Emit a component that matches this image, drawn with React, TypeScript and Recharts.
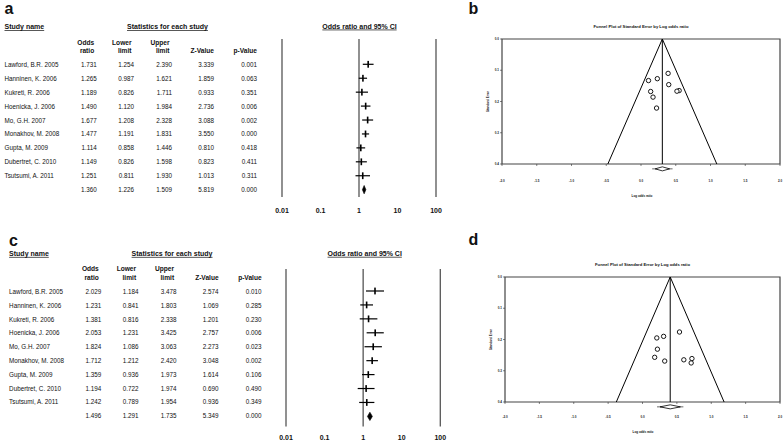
import React from "react";
import {
  ComposedChart, Scatter, XAxis, YAxis, ReferenceLine, ReferenceArea,
} from "recharts";

const FONT = "'Liberation Sans', Arial, Helvetica, sans-serif";

const studyNames = [
  "Lawford, B.R. 2005",
  "Hanninen, K. 2006",
  "Kukreti, R. 2006",
  "Hoenicka, J. 2006",
  "Mo, G.H. 2007",
  "Monakhov, M. 2008",
  "Gupta, M. 2009",
  "Dubertret, C. 2010",
  "Tsutsumi, A. 2011",
];

// panel a (last entry = pooled)
const orA = [1.731, 1.265, 1.189, 1.49, 1.677, 1.477, 1.114, 1.149, 1.251, 1.36];
const loA = [1.254, 0.987, 0.826, 1.12, 1.208, 1.191, 0.858, 0.826, 0.811, 1.226];
const hiA = [2.39, 1.621, 1.711, 1.984, 2.328, 1.831, 1.446, 1.598, 1.93, 1.509];
const zA = [3.339, 1.859, 0.933, 2.736, 3.088, 3.55, 0.81, 0.823, 1.013, 5.819];
const pA = [0.001, 0.063, 0.351, 0.006, 0.002, 0.0, 0.418, 0.411, 0.311, 0.0];

// panel c
const orC = [2.029, 1.231, 1.381, 2.053, 1.824, 1.712, 1.359, 1.194, 1.242, 1.496];
const loC = [1.184, 0.841, 0.816, 1.231, 1.086, 1.212, 0.936, 0.722, 0.789, 1.291];
const hiC = [3.478, 1.803, 2.338, 3.425, 3.063, 2.42, 1.973, 1.974, 1.954, 1.735];
const zC = [2.574, 1.069, 1.201, 2.757, 2.273, 3.048, 1.614, 0.69, 0.936, 5.349];
const pC = [0.01, 0.285, 0.23, 0.006, 0.023, 0.002, 0.106, 0.49, 0.349, 0.0];

const forestTicks = [0.01, 0.1, 1, 10, 100];
const forestLines = [0.01, 1, 100];

// funnel b: log odds ratio and standard error per study
const logOrB = [0.549, 0.235, 0.173, 0.399, 0.517, 0.39, 0.108, 0.139, 0.224];
const seB = [0.165, 0.127, 0.186, 0.146, 0.167, 0.11, 0.133, 0.168, 0.221];
const pooledB = 0.307;
const funnelBaseB = [-0.477, 1.091];
const pooledCiB = [0.204, 0.411];

// funnel d
const logOrD = [0.708, 0.208, 0.323, 0.719, 0.601, 0.538, 0.307, 0.177, 0.217];
const seD = [0.275, 0.195, 0.269, 0.261, 0.265, 0.176, 0.19, 0.257, 0.231];
const pooledD = 0.403;
const funnelBaseD = [-0.381, 1.187];
const pooledCiD = [0.255, 0.551];

const funnelXTicks = [-2, -1.5, -1, -0.5, 0, 0.5, 1, 1.5, 2];
const funnelYTicks = [0, 0.1, 0.2, 0.3, 0.4];

type Geom = { left: number; right: number; top: number; bottom: number };

function StudyTable({ dx, dy, or, lo, hi, z, p }: any) {
  const cols = [96.7, 134, 172, 214, 257].map((c) => c + dx);
  const base = (i: number) => dy + 65 + i * 13.81 + 2.3;
  const hdr = (c: number) => c - 2.5;
  const bold = { fontSize: 6.6, fontWeight: 700 } as any;
  return (
    <g fontFamily={FONT} fill="#111">
      <text x={dx + 4.5} y={dy + 29.3} fontSize={7} fontWeight={700} textDecoration="underline">Study name</text>
      <text x={dx + 127} y={dy + 29.3} fontSize={7} fontWeight={700} textDecoration="underline">Statistics for each study</text>
      <text x={hdr(cols[0])} y={dy + 44.6} textAnchor="end" {...bold}>Odds</text>
      <text x={hdr(cols[0])} y={dy + 53} textAnchor="end" {...bold}>ratio</text>
      <text x={hdr(cols[1])} y={dy + 44.6} textAnchor="end" {...bold}>Lower</text>
      <text x={hdr(cols[1])} y={dy + 53} textAnchor="end" {...bold}>limit</text>
      <text x={hdr(cols[2])} y={dy + 44.6} textAnchor="end" {...bold}>Upper</text>
      <text x={hdr(cols[2])} y={dy + 53} textAnchor="end" {...bold}>limit</text>
      <text x={cols[3]} y={dy + 53} textAnchor="end" {...bold}>Z-Value</text>
      <text x={cols[4]} y={dy + 53} textAnchor="end" {...bold}>p-Value</text>
      {or.map((v: number, i: number) => (
        <g key={i} fontSize={6.3}>
          {i < studyNames.length && <text x={dx + 4.5} y={base(i)}>{studyNames[i]}</text>}
          <text x={cols[0]} y={base(i)} textAnchor="end">{v.toFixed(3)}</text>
          <text x={cols[1]} y={base(i)} textAnchor="end">{lo[i].toFixed(3)}</text>
          <text x={cols[2]} y={base(i)} textAnchor="end">{hi[i].toFixed(3)}</text>
          <text x={cols[3]} y={base(i)} textAnchor="end">{z[i].toFixed(3)}</text>
          <text x={cols[4]} y={base(i)} textAnchor="end">{p[i].toFixed(3)}</text>
        </g>
      ))}
    </g>
  );
}

const Diamond = (props: any) => {
  const { x, y, width: w, height: h } = props;
  return (
    <polygon
      points={`${x},${y + h / 2} ${x + w / 2},${y} ${x + w},${y + h / 2} ${x + w / 2},${y + h}`}
      fill="#000"
      stroke="#000"
      strokeWidth={0.6}
    />
  );
};

const HollowDiamond = (props: any) => {
  const { x, y, width: w, height: h } = props;
  return (
    <g>
      <line x1={x - 3} x2={x + w + 3} y1={y + h / 2} y2={y + h / 2} stroke="#000" strokeWidth={0.6} />
      <polygon
        points={`${x},${y + h / 2} ${x + w / 2},${y} ${x + w},${y + h / 2} ${x + w / 2},${y + h}`}
        fill="#fff"
        stroke="#000"
        strokeWidth={0.8}
      />
    </g>
  );
};

function ForestPlot({ or, lo, hi, g, yDomain, tickDy }: any) {
  const rows = or.slice(0, 9).map((v: number, i: number) => ({ x: v, y: i }));
  const W = g.right - g.left + 46;
  const H = g.bottom - g.top + 39 + 25;
  return (
    <div style={{ position: "absolute", left: g.left - 20, top: g.top - 39 }}>
      <ComposedChart width={W} height={H} margin={{ top: 39, right: 26, bottom: 0, left: 20 }}>
        <XAxis
          type="number"
          dataKey="x"
          scale="log"
          domain={[0.01, 100]}
          allowDataOverflow
          ticks={forestTicks}
          interval={0}
          height={25}
          axisLine={false}
          tickLine={false}
          tickSize={0}
          tickMargin={0}
          tick={(t: any) => (
            <text x={t.x} y={t.y + tickDy} textAnchor="middle" fontSize={7} fontWeight={700} fontFamily={FONT} fill="#111">
              {String(t.payload.value)}
            </text>
          )}
        />
        <YAxis type="number" dataKey="y" domain={yDomain} reversed hide allowDataOverflow />
        {forestLines.map((v) => (
          <ReferenceLine key={v} x={v} stroke="#555" strokeWidth={1.3} />
        ))}
        {rows.map((r: any, i: number) => (
          <ReferenceLine
            key={"ci" + i}
            segment={[{ x: lo[i], y: i }, { x: hi[i], y: i }]}
            stroke="#000"
            strokeWidth={1.2}
          />
        ))}
        <Scatter
          data={rows}
          isAnimationActive={false}
          shape={(s: any) => <rect x={s.cx - 0.8} y={s.cy - 3.4} width={1.6} height={6.8} fill="#000" />}
        />
        <ReferenceArea x1={lo[9]} x2={hi[9]} y1={8.7} y2={9.3} shape={Diamond} />
      </ComposedChart>
    </div>
  );
}

function FunnelPlot({ xs, se, pooled, base, ci, g, tickDy }: any) {
  const pts = xs.map((x: number, i: number) => ({ x, y: se[i] }));
  const funnel = [
    { x: base[0], y: 0.4 },
    { x: pooled, y: 0 },
    { x: base[1], y: 0.4 },
  ];
  const W = g.right - g.left + 44;
  const H = g.bottom - g.top + 40;
  return (
    <div style={{ position: "absolute", left: g.left - 40, top: g.top - 10 }}>
      <ComposedChart width={W} height={H} margin={{ top: 10, right: 4, bottom: 0, left: 0 }}>
        <XAxis
          type="number"
          dataKey="x"
          domain={[-2, 2]}
          allowDataOverflow
          ticks={funnelXTicks}
          interval={0}
          height={30}
          axisLine={false}
          tickSize={2}
          tickMargin={0}
          tickLine={{ stroke: "#333", strokeWidth: 0.6 }}
          tick={(t: any) => (
            <text x={t.x} y={t.y + tickDy} textAnchor="middle" fontSize={3} fontWeight={700} fontFamily={FONT} fill="#111">
              {t.payload.value.toFixed(1)}
            </text>
          )}
        />
        <YAxis
          type="number"
          dataKey="y"
          domain={[0, 0.4]}
          reversed
          allowDataOverflow
          ticks={funnelYTicks}
          interval={0}
          width={40}
          axisLine={false}
          tickSize={2}
          tickMargin={0}
          tickLine={{ stroke: "#333", strokeWidth: 0.6 }}
          tick={(t: any) => (
            <text x={t.x - 1} y={t.y + 1.1} textAnchor="end" fontSize={3} fontWeight={700} fontFamily={FONT} fill="#111">
              {t.payload.value.toFixed(1)}
            </text>
          )}
          label={{
            value: "Standard Error",
            angle: -90,
            position: "insideLeft",
            offset: 26,
            style: { fontSize: 3, fontWeight: 700, fontFamily: FONT, fill: "#111", textAnchor: "middle" },
          }}
        />
        <ReferenceArea x1={-2} x2={2} y1={0} y2={0.4} fill="none" stroke="#444" strokeWidth={1.2} ifOverflow="visible" />
        <Scatter
          data={funnel}
          isAnimationActive={false}
          line={{ stroke: "#000", strokeWidth: 1 }}
          shape={() => <g />}
        />
        <ReferenceLine x={pooled} stroke="#000" strokeWidth={1} />
        <Scatter
          data={pts}
          isAnimationActive={false}
          shape={(s: any) => <circle cx={s.cx} cy={s.cy} r={2.2} fill="#fff" stroke="#000" strokeWidth={0.9} />}
        />
        <ReferenceArea x1={ci[0]} x2={ci[1]} y1={0.409} y2={0.422} ifOverflow="visible" shape={HollowDiamond} />
      </ComposedChart>
    </div>
  );
}

const geomA: Geom = { left: 282, right: 436, top: 39, bottom: 197 };
const geomC: Geom = { left: 285.7, right: 440, top: 269.3, bottom: 426.7 };
const geomB: Geom = { left: 502, right: 780, top: 39, bottom: 164 };
const geomD: Geom = { left: 505, right: 780, top: 277.3, bottom: 402.3 };

export default function App() {
  return (
    <div style={{ position: "absolute", left: 0, top: 0, width: 784, height: 442, background: "#fff", overflow: "hidden" }}>
      <svg width={784} height={442} style={{ position: "absolute", left: 0, top: 0 }}>
        <g fontFamily={FONT} fill="#111" fontWeight={700}>
          <text x={4.4} y={14} fontSize={16}>a</text>
          <text x={9} y={246} fontSize={16}>c</text>
          <text x={468.5} y={14} fontSize={16}>b</text>
          <text x={468.5} y={245} fontSize={16}>d</text>
          <text x={359.5} y={28.6} fontSize={7} textAnchor="middle" textDecoration="underline">Odds ratio and 95% CI</text>
          <text x={364.7} y={255.8} fontSize={7} textAnchor="middle" textDecoration="underline">Odds ratio and 95% CI</text>
          <text x={641} y={28.2} fontSize={4.2} textAnchor="middle">Funnel Plot of Standard Error by Log odds ratio</text>
          <text x={642.5} y={265.8} fontSize={4.2} textAnchor="middle">Funnel Plot of Standard Error by Log odds ratio</text>
          <text x={642} y={196.8} fontSize={3} textAnchor="middle">Log odds ratio</text>
          <text x={643} y={433.2} fontSize={3} textAnchor="middle">Log odds ratio</text>
        </g>
        <StudyTable dx={0} dy={0} or={orA} lo={loA} hi={hiA} z={zA} p={pA} />
        <StudyTable dx={4.6} dy={226.6} or={orC} lo={loC} hi={hiC} z={zC} p={pC} />
      </svg>
      <ForestPlot or={orA} lo={loA} hi={hiA} g={geomA} yDomain={[-1.816, 9.526]} tickDy={16.2} />
      <ForestPlot or={orC} lo={loC} hi={hiC} g={geomC} yDomain={[-1.579, 9.718]} tickDy={14.1} />
      <FunnelPlot xs={logOrB} se={seB} pooled={pooledB} base={funnelBaseB} ci={pooledCiB} g={geomB} tickDy={16} />
      <FunnelPlot xs={logOrD} se={seD} pooled={pooledD} base={funnelBaseD} ci={pooledCiD} g={geomD} tickDy={14.1} />
    </div>
  );
}
